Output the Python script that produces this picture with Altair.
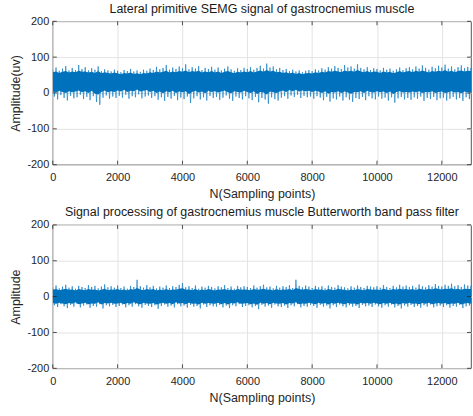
import altair as alt
import pandas as pd

BLUE = "#0072BD"
AX = "#262626"
FONT = "Liberation Sans"

x_ticks = [0, 2000, 4000, 6000, 8000, 10000, 12000]
y_ticks = [-200, -100, 0, 100, 200]
x_end = 12900
bin_step = 100

# ---- top panel: spike envelope, read every 100 samples ----
top_hi = [66, 71, 62, 68, 75, 63, 70, 64, 78, 67,
          72, 63, 69, 65, 74, 61, 66, 63, 60, 65,
          62, 58, 64, 61, 67, 60, 63, 59, 65, 62,
          68, 64, 73, 66, 70, 78, 65, 71, 67, 74,
          69, 80, 66, 72, 68, 75, 64, 70, 67, 73,
          65, 71, 63, 68, 74, 66, 62, 69, 64, 70,
          67, 72, 65, 70, 76, 68, 82, 71, 74, 66,
          70, 64, 67, 61, 65, 60, 63, 58, 62, 64,
          61, 66, 63, 69, 65, 72, 68, 75, 70, 67,
          78, 71, 74, 68, 80, 70, 66, 72, 64, 69,
          67, 63, 70, 65, 68, 62, 66, 71, 64, 69,
          72, 66, 74, 68, 77, 70, 65, 73, 69, 76,
          71, 79, 68, 74, 66, 72, 77, 69, 73, 70]
top_lo = [-10, -18, -6, -14, -21, -8, -15, -12, -5, -17,
          -11, -20, -9, -25, -33, -13, -7, -16, -10, -14,
          -8, -13, -5, -16, -9, -12, -4, -15, -10, -7,
          -14, -9, -19, -12, -22, -11, -16, -8, -20, -13,
          -17, -10, -28, -15, -9, -18, -12, -21, -8, -14,
          -11, -19, -13, -7, -16, -22, -10, -14, -18, -9,
          -15, -20, -11, -26, -14, -18, -30, -12, -17, -21,
          -13, -9, -16, -7, -11, -5, -14, -8, -12, -10,
          -16, -9, -13, -20, -11, -24, -15, -18, -10, -21,
          -12, -19, -25, -14, -17, -11, -20, -9, -15, -18,
          -10, -16, -13, -21, -12, -27, -15, -11, -18, -14,
          -19, -12, -16, -10, -22, -14, -17, -11, -20, -15,
          -13, -21, -16, -11, -18, -14, -22, -12, -17, -15]
# dense (solid) part of the band
top_core_hi = [58, 60, 56, 59, 61, 57, 60, 58, 62, 59,
               60, 57, 59, 56, 61, 55, 58, 56, 54, 57,
               55, 52, 56, 54, 57, 53, 55, 52, 56, 54,
               58, 56, 60, 57, 59, 62, 57, 60, 58, 61,
               59, 63, 58, 61, 59, 62, 57, 60, 58, 61,
               57, 60, 56, 59, 61, 58, 55, 59, 57, 60,
               58, 61, 57, 60, 63, 59, 64, 60, 62, 58,
               59, 56, 58, 54, 57, 53, 56, 52, 55, 56,
               54, 58, 56, 59, 57, 61, 59, 62, 60, 58,
               63, 60, 62, 59, 64, 60, 58, 61, 57, 60,
               59, 56, 60, 57, 59, 55, 58, 61, 57, 60,
               61, 58, 62, 59, 63, 60, 57, 61, 59, 62,
               60, 64, 59, 62, 58, 61, 63, 60, 62, 61]
top_core_lo = [4, 1, 6, 3, 0, 5, 2, 4, 7, 2,
               5, 0, 6, -2, -4, 3, 7, 2, 5, 3,
               7, 4, 9, 3, 6, 5, 10, 4, 6, 8,
               3, 6, 0, 4, -1, 5, 2, 6, 0, 4,
               2, 5, -3, 3, 6, 1, 4, -1, 6, 3,
               5, 1, 4, 7, 2, -1, 5, 3, 1, 6,
               3, 0, 5, -3, 3, 1, -4, 4, 2, 0,
               4, 7, 3, 8, 5, 9, 4, 7, 5, 6,
               3, 6, 4, 0, 5, -2, 3, 1, 5, 0,
               4, 1, -2, 3, 2, 5, 0, 6, 3, 1,
               5, 2, 4, 0, 4, -3, 3, 5, 1, 3,
               1, 4, 2, 5, 0, 3, 2, 5, 0, 3,
               4, 0, 2, 5, 1, 3, -1, 4, 2, 3]

# ---- bottom panel (band-pass filtered signal) ----
bot_hi = [26, 31, 23, 28, 33, 25, 29, 22, 30, 27,
          24, 32, 27, 30, 23, 28, 34, 26, 29, 25,
          31, 24, 28, 22, 30, 27, 47, 29, 25, 32,
          26, 30, 23, 28, 25, 31, 24, 29, 27, 33,
          38, 26, 29, 24, 31, 22, 28, 25, 30, 27,
          23, 29, 26, 32, 24, 28, 22, 30, 26, 29,
          27, 24, 31, 25, 29, 33, 26, 28, 23, 30,
          25, 29, 27, 32, 24, 47, 30, 26, 31, 28,
          24, 30, 26, 29, 23, 31, 27, 25, 32, 28,
          26, 23, 29, 25, 31, 27, 24, 30, 28, 26,
          29, 25, 32, 27, 24, 30, 26, 33, 28, 31,
          27, 30, 25, 34, 29, 26, 32, 28, 35, 30,
          28, 33, 30, 36, 29, 32, 27, 34, 31, 30]
bot_lo = [-24, -29, -21, -27, -32, -23, -28, -20, -30, -25,
          -22, -31, -26, -28, -21, -33, -24, -27, -23, -29,
          -26, -22, -30, -24, -28, -21, -27, -31, -23, -26,
          -29, -24, -34, -26, -22, -28, -25, -30, -21, -27,
          -25, -31, -23, -28, -26, -33, -22, -29, -24, -27,
          -28, -23, -30, -25, -32, -24, -27, -21, -29, -26,
          -24, -30, -26, -35, -23, -28, -25, -31, -22, -27,
          -29, -25, -32, -24, -27, -21, -30, -26, -28, -23,
          -26, -31, -23, -28, -25, -33, -24, -29, -22, -27,
          -30, -24, -28, -26, -32, -23, -27, -25, -29, -22,
          -27, -31, -24, -28, -22, -30, -26, -33, -25, -28,
          -23, -29, -26, -31, -24, -28, -22, -30, -27, -25,
          -29, -24, -31, -26, -28, -23, -32, -27, -25, -28]
bot_core_hi = [19, 21, 18, 20, 22, 19, 20, 17, 21, 19,
               18, 21, 19, 20, 17, 19, 22, 18, 20, 19,
               21, 18, 20, 17, 21, 19, 24, 20, 18, 21,
               19, 21, 17, 20, 18, 21, 18, 20, 19, 22,
               23, 19, 20, 18, 21, 17, 20, 18, 21, 19,
               17, 20, 19, 21, 18, 20, 17, 21, 19, 20,
               19, 18, 21, 19, 20, 22, 19, 20, 17, 21,
               18, 20, 19, 21, 18, 24, 21, 19, 21, 20,
               18, 21, 19, 20, 17, 21, 19, 18, 22, 20,
               19, 17, 20, 18, 21, 19, 18, 21, 20, 19,
               20, 18, 22, 19, 18, 21, 19, 22, 20, 21,
               19, 21, 18, 22, 20, 19, 22, 20, 23, 21,
               20, 22, 21, 23, 20, 22, 19, 22, 21, 21]
bot_core_lo = [-18, -20, -17, -19, -21, -18, -20, -16, -21, -19,
               -17, -21, -19, -20, -16, -22, -18, -19, -17, -20,
               -19, -17, -21, -18, -20, -16, -19, -21, -17, -19,
               -20, -18, -22, -19, -17, -20, -18, -21, -16, -19,
               -18, -21, -17, -20, -19, -22, -17, -20, -18, -19,
               -20, -17, -21, -18, -22, -18, -19, -16, -20, -19,
               -18, -21, -19, -23, -17, -20, -18, -21, -17, -19,
               -20, -18, -22, -18, -19, -16, -21, -19, -20, -17,
               -19, -21, -17, -20, -18, -22, -18, -20, -17, -19,
               -21, -18, -20, -19, -22, -17, -19, -18, -20, -17,
               -19, -21, -18, -20, -17, -21, -19, -22, -18, -20,
               -17, -20, -19, -21, -18, -20, -17, -21, -19, -18,
               -20, -18, -21, -19, -20, -17, -22, -19, -18, -20]

W, H = 420, 144


def signal_df(hi, lo):
    rows = []
    for i, (h, l) in enumerate(zip(hi, lo)):
        s = i * bin_step
        rows.append({"n": s, "amp": h, "k": 2 * i})
        rows.append({"n": s + bin_step / 2, "amp": l, "k": 2 * i + 1})
    return pd.DataFrame(rows)


def core_df(chi, clo):
    return pd.DataFrame({"n": [i * bin_step for i in range(len(chi))], "amp": clo, "hi": chi})


def panel(title, ytitle, hi, lo, chi, clo):
    xsc = alt.Scale(domain=[0, x_end], nice=False, zero=False)
    ysc = alt.Scale(domain=[-200, 200], nice=False)
    xax = alt.Axis(values=x_ticks, title="N(Sampling points)", labelExpr="'' + datum.value",
                   ticks=False, tickSize=0, domain=False, grid=True, gridColor="#e3e3e3",
                   labelFontSize=11, labelPadding=7, titleFontSize=12.5, titlePadding=5,
                   labelColor=AX, titleColor=AX, labelFont=FONT, titleFont=FONT,
                   titleFontWeight="normal", labelFlush=False, labelOverlap=False)
    yax = alt.Axis(values=y_ticks, title=ytitle, labelExpr="'' + datum.value",
                   ticks=False, tickSize=0, domain=False, grid=True, gridColor="#e3e3e3",
                   labelFontSize=11, labelPadding=4, titleFontSize=12.5, titlePadding=4,
                   labelColor=AX, titleColor=AX, labelFont=FONT, titleFont=FONT,
                   titleFontWeight="normal", labelFlush=False, labelOverlap=False)
    X = lambda f="n:Q": alt.X(f, scale=xsc, axis=xax)
    Y = lambda f="amp:Q": alt.Y(f, scale=ysc, axis=yax)
    core = alt.Chart(core_df(chi, clo)).mark_area(color=BLUE, clip=True, opacity=1).encode(
        x=X(), y=Y(), y2="hi:Q",
    )
    line = alt.Chart(signal_df(hi, lo)).mark_line(color=BLUE, strokeWidth=0.6, clip=True).encode(
        x=X(), y=Y(), order="k:Q"
    )
    xt = pd.DataFrame({"n": x_ticks})
    yt = pd.DataFrame({"amp": y_ticks})
    tk_top = alt.Chart(xt).mark_rule(color=AX, strokeWidth=0.8).encode(
        x=X(), y=alt.value(0), y2=alt.value(4))
    tk_bot = alt.Chart(xt).mark_rule(color=AX, strokeWidth=0.8).encode(
        x=X(), y=alt.value(H), y2=alt.value(H - 4))
    tk_l = alt.Chart(yt).mark_rule(color=AX, strokeWidth=0.8).encode(
        y=Y(), x=alt.value(0), x2=alt.value(4))
    tk_r = alt.Chart(yt).mark_rule(color=AX, strokeWidth=0.8).encode(
        y=Y(), x=alt.value(W), x2=alt.value(W - 4))
    return alt.layer(core, line, tk_top, tk_bot, tk_l, tk_r).properties(
        width=W, height=H,
        title=alt.TitleParams(title, fontSize=12.5, fontWeight="normal", font=FONT,
                              color="#1a1a1a", offset=0, anchor="middle"),
    )


top = panel("Lateral primitive SEMG signal of gastrocnemius muscle", "Amplitude(uv)",
            top_hi, top_lo, top_core_hi, top_core_lo)
bot = panel("Signal processing of gastrocnemius muscle Butterworth band pass filter", "Amplitude",
            bot_hi, bot_lo, bot_core_hi, bot_core_lo)

chart = alt.vconcat(top, bot, spacing=60.5, bounds="flush").configure_view(
    stroke=AX, strokeWidth=0.8
).properties(
    padding={"left": 9, "top": 1.5, "right": 1, "bottom": 8},
    background="white",
)

chart.save("out.html", embed_options={"renderer": "svg", "actions": False})
